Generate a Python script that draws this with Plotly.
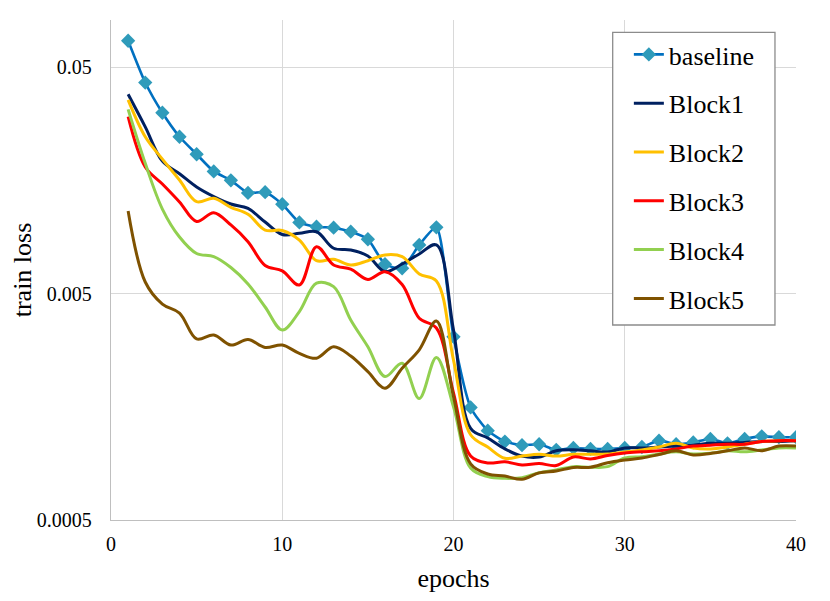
import plotly.graph_objects as go

epochs = list(range(1, 41))

baseline = [0.0653, 0.0427, 0.0314, 0.0246, 0.0206, 0.0173, 0.0158, 0.0139, 0.0140, 0.0124,
            0.0103, 0.00986, 0.00976, 0.00937, 0.00868, 0.00673, 0.00646, 0.00819, 0.00980, 0.00322,
            0.00157, 0.00124, 0.00111, 0.00107, 0.00108, 0.00102, 0.00104, 0.00103, 0.00103, 0.00104,
            0.00105, 0.00112, 0.00108, 0.00110, 0.00114, 0.00109, 0.00114, 0.00117, 0.00116, 0.00116]
block1 = [0.0379, 0.0272, 0.0192, 0.0169, 0.01477, 0.0134, 0.01242, 0.01187, 0.01034, 0.00911,
          0.00922, 0.00937, 0.00792, 0.00778, 0.00732, 0.00625, 0.00675, 0.00747, 0.00819, 0.00345,
          0.00127, 0.00115, 0.00103, 0.000958, 0.000949, 0.00101, 0.00102, 0.00101, 0.000998, 0.00104,
          0.00104, 0.00105, 0.00106, 0.00107, 0.00109, 0.00109, 0.00110, 0.00111, 0.00111, 0.00112]
block2 = [0.0358, 0.0246, 0.0196, 0.01585, 0.01272, 0.01316, 0.01201, 0.01119, 0.00953, 0.00949,
          0.00861, 0.00698, 0.00708, 0.00668, 0.00698, 0.00740, 0.00727, 0.00610, 0.00568, 0.00254,
          0.00119, 0.00105, 0.000936, 0.000958, 0.000975, 0.000958, 0.000975, 0.000975, 0.000978, 0.000998,
          0.00102, 0.00105, 0.00109, 0.00104, 0.00103, 0.00105, 0.00108, 0.00111, 0.00112, 0.00112]
block3 = [0.0302, 0.0181, 0.01522, 0.01268, 0.0104, 0.01137, 0.01004, 0.00847, 0.00665, 0.00629,
          0.00545, 0.00805, 0.00668, 0.0064, 0.00577, 0.00624, 0.00548, 0.00389, 0.00352, 0.00182,
          0.000958, 0.000893, 0.000904, 0.000875, 0.000888, 0.00087, 0.000949, 0.00093, 0.000963, 0.000988,
          0.00100, 0.00101, 0.00103, 0.00106, 0.00107, 0.00108, 0.00108, 0.00111, 0.00112, 0.00112]
block4 = [0.0325, 0.01878, 0.0118, 0.00888, 0.00751, 0.00727, 0.00651, 0.00551, 0.00436, 0.00345,
          0.00416, 0.00555, 0.00536, 0.00382, 0.00291, 0.00215, 0.00246, 0.00172, 0.00261, 0.00158,
          0.000848, 0.000777, 0.000764, 0.000769, 0.000809, 0.000832, 0.00086, 0.000855, 0.00086, 0.000939,
          0.000952, 0.000978, 0.00100, 0.000978, 0.000985, 0.00101, 0.00100, 0.00102, 0.00104, 0.00104]
block5 = [0.01156, 0.00562, 0.00449, 0.0041, 0.00315, 0.00328, 0.00296, 0.00313, 0.00289, 0.00296,
          0.00272, 0.00259, 0.00291, 0.00265, 0.00226, 0.00191, 0.00234, 0.00282, 0.00378, 0.00175,
          0.000884, 0.000798, 0.000782, 0.000756, 0.000807, 0.000823, 0.000853, 0.000855, 0.000895, 0.00092,
          0.000939, 0.000973, 0.00101, 0.000968, 0.000983, 0.00101, 0.00104, 0.00101, 0.00106, 0.00106]

names = ['Block1', 'Block2', 'Block3', 'Block4', 'Block5']
colors = ['#002060', '#FFC000', '#FF0000', '#92D050', '#7F5200']
y_tickvals = [0.0005, 0.005, 0.05]
y_ticktext = ['0.0005', '0.005', '0.05']
x_tickvals = [0, 10, 20, 30, 40]

font = 'Liberation Serif'

fig = go.Figure()

fig.add_trace(go.Scatter(
    x=epochs, y=baseline, name='baseline', mode='lines+markers',
    line=dict(color='#0070C0', width=2.6, shape='spline', smoothing=0.6),
    marker=dict(symbol='diamond', size=11, color='#2F9BBA'),
    legendgroup='g0'
))
for i, (nm, ys) in enumerate(zip(names, [block1, block2, block3, block4, block5])):
    fig.add_trace(go.Scatter(
        x=epochs, y=ys, name=nm, mode='lines',
        line=dict(color=colors[i], width=3, shape='spline', smoothing=1),
        legendgroup='g%d' % (i + 1)
    ))

# legend frame
fig.add_shape(type='rect', xref='paper', yref='paper',
              x0=0.7324, x1=0.9693, y0=0.39, y1=0.9754,
              line=dict(color='#8C8C8C', width=1.3), fillcolor='white', layer='above')

# page body has an 8px margin, so the plot margins are shifted to compensate
fig.update_layout(
    width=830, height=601,
    margin=dict(l=103, r=42, t=12, b=89),
    paper_bgcolor='white', plot_bgcolor='white',
    font=dict(family=font, color='black', size=20),
    showlegend=True,
    legend=dict(
        x=0.756, y=0.978, xanchor='left', yanchor='top',
        bgcolor='rgba(0,0,0,0)', borderwidth=0,
        font=dict(family=font, size=26, color='black'),
        traceorder='grouped', tracegroupgap=12
    ),
    xaxis=dict(
        range=[0, 40], tickvals=x_tickvals, showgrid=True, gridcolor='#D9D9D9', gridwidth=1.3,
        showline=True, linecolor='#BFBFBF', linewidth=1.3, zeroline=False, ticks='',
        tickfont=dict(size=20), ticklabelstandoff=6, automargin=False,
        title=dict(text='epochs', font=dict(size=26), standoff=14)
    ),
    yaxis=dict(
        type='log', range=[-3.30103, -1.0935], tickvals=y_tickvals, ticktext=y_ticktext,
        showgrid=True, gridcolor='#D9D9D9', gridwidth=1.3,
        showline=True, linecolor='#BFBFBF', linewidth=1.3, zeroline=False, ticks='',
        tickfont=dict(size=20), ticklabelstandoff=14, automargin=False,
        title=dict(text='train loss', font=dict(size=26), standoff=1)
    )
)

fig.write_html('out.html')
